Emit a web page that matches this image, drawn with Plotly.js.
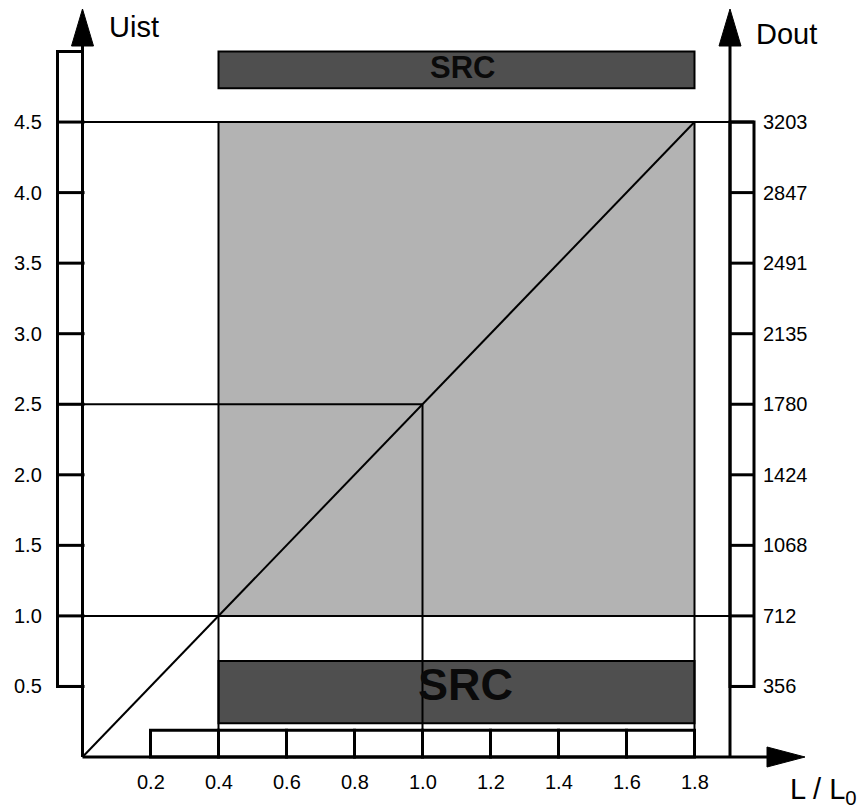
<!DOCTYPE html>
<html>
<head>
<meta charset="utf-8">
<script src="https://cdn.plot.ly/plotly-3.0.1.min.js"></script>
<style>
html,body{margin:0;padding:0;background:#fff;}
#chart{width:868px;height:809px;}
</style>
</head>
<body>
<div id="chart"></div>
<script>
// ---- data ----
const xTicks = [0.2, 0.4, 0.6, 0.8, 1.0, 1.2, 1.4, 1.6, 1.8];
const xTickLabels = ['0.2', '0.4', '0.6', '0.8', '1.0', '1.2', '1.4', '1.6', '1.8'];
const uistTicks = [0.5, 1.0, 1.5, 2.0, 2.5, 3.0, 3.5, 4.0, 4.5];
const uistLabels = ['0.5', '1.0', '1.5', '2.0', '2.5', '3.0', '3.5', '4.0', '4.5'];
const doutLabels = ['356', '712', '1068', '1424', '1780', '2135', '2491', '2847', '3203'];
const curveL = [0, 0.4, 1.0, 1.8];
const curveU = [0, 1.0, 2.5, 4.5];
const srcRangeL = [0.4, 1.8];
const workRangeU = [1.0, 4.5];
const nominalL = 1.0;
const nominalU = 2.5;
const srcTopBand = [4.74, 5.0];
const srcBottomBand = [0.24, 0.68];
const stripTop = 0.19;
const leftScaleTop = 5.0;

// ---- geometry helpers (pixel layout of the drawing) ----
const PX = 340, PY = 141.1, X0 = 82.5, Y0 = 757, W = 868, H = 809;
const dx = p => (p - X0) / PX;      // pixel -> L value
const dy = p => (Y0 - p) / PY;      // pixel -> Uist value
const leftBoxX = dx(57.5);
const rightAxisX = dx(730);
const rightBoxX = dx(754);
const arrowBaseY = dy(46), arrowTipY = dy(9);
const arrowHalfW = 11 / PX;
const xArrowBase = dx(767), xArrowTip = dx(805), xArrowHalfH = 10 / PY;

const BLACK = '#000';
const shapes = [];
function line(x0, y0, x1, y1, w) {
  shapes.push({type: 'line', xref: 'x', yref: 'y', x0, y0, x1, y1, line: {color: BLACK, width: w}});
}
function rect(x0, y0, x1, y1, fill, w, layer) {
  shapes.push({type: 'rect', xref: 'x', yref: 'y', x0, y0, x1, y1, fillcolor: fill,
    line: {color: BLACK, width: w}, layer: layer || 'above'});
}
function path(d) {
  shapes.push({type: 'path', xref: 'x', yref: 'y', path: d, fillcolor: BLACK, line: {color: BLACK, width: 1}});
}

// working region (light gray)
shapes.push({type: 'rect', xref: 'x', yref: 'y', x0: srcRangeL[0], x1: srcRangeL[1],
  y0: workRangeU[0], y1: workRangeU[1], fillcolor: '#b3b3b3', line: {width: 0}, layer: 'below'});

// SRC bars
rect(srcRangeL[0], srcTopBand[0], srcRangeL[1], srcTopBand[1], '#4f4f4f', 2);
rect(srcRangeL[0], srcBottomBand[0], srcRangeL[1], srcBottomBand[1], '#4f4f4f', 2);

// strip cells along the L axis
for (let i = 0; i < xTicks.length - 1; i++) {
  rect(xTicks[i], 0, xTicks[i + 1], stripTop, 'rgba(0,0,0,0)', 3);
}

// scale boxes
rect(leftBoxX, uistTicks[0], 0, leftScaleTop, 'rgba(0,0,0,0)', 3);
rect(rightAxisX, uistTicks[0], rightBoxX, uistTicks[uistTicks.length - 1], 'rgba(0,0,0,0)', 3);

// tick marks inside boxes
uistTicks.forEach(u => {
  line(leftBoxX, u, 0.006, u, 3);
  line(rightAxisX, u, rightBoxX, u, 3);
});

// guide lines
line(leftBoxX, workRangeU[1], rightBoxX, workRangeU[1], 2);
line(leftBoxX, workRangeU[0], rightBoxX, workRangeU[0], 2);
line(leftBoxX, nominalU, nominalL, nominalU, 2);
line(srcRangeL[0], 0, srcRangeL[0], workRangeU[1], 2);
line(srcRangeL[1], 0, srcRangeL[1], workRangeU[1], 2);
line(nominalL, 0, nominalL, nominalU, 2);

// axes
line(0, 0, 0, arrowBaseY, 3);
line(rightAxisX, 0, rightAxisX, arrowBaseY, 3);
line(0, 0, xArrowBase, 0, 3);
path(`M ${-arrowHalfW},${arrowBaseY} L ${arrowHalfW},${arrowBaseY} L 0,${arrowTipY} Z`);
path(`M ${rightAxisX - arrowHalfW},${arrowBaseY} L ${rightAxisX + arrowHalfW},${arrowBaseY} L ${rightAxisX},${arrowTipY} Z`);
path(`M ${xArrowBase},${-xArrowHalfH} L ${xArrowBase},${xArrowHalfH} L ${xArrowTip},0 Z`);

// ---- annotations ----
const FONT = 'Liberation Sans, Arial, sans-serif';
const ann = [];
const tickFont = {family: FONT, size: 20, color: '#000'};
uistTicks.forEach((u, i) => {
  ann.push({x: dx(44), y: u, xref: 'x', yref: 'y', text: uistLabels[i], showarrow: false,
    xanchor: 'right', yanchor: 'middle', font: tickFont});
  ann.push({x: dx(761), y: u, xref: 'x', yref: 'y', text: doutLabels[i], showarrow: false,
    xanchor: 'left', yanchor: 'middle', font: tickFont});
});
xTicks.forEach((x, i) => {
  ann.push({x: x, y: dy(782), xref: 'x', yref: 'y', text: xTickLabels[i], showarrow: false,
    xanchor: 'center', yanchor: 'middle', font: tickFont});
});
const titleFont = {family: FONT, size: 29, color: '#000'};
ann.push({x: dx(107), y: dy(27), xref: 'x', yref: 'y', text: 'Uist', showarrow: false,
  xanchor: 'left', yanchor: 'middle', font: titleFont});
ann.push({x: dx(754), y: dy(34), xref: 'x', yref: 'y', text: 'Dout', showarrow: false,
  xanchor: 'left', yanchor: 'middle', font: titleFont});
ann.push({x: dx(788), y: dy(791), xref: 'x', yref: 'y', text: 'L / L<sub>0</sub>', showarrow: false,
  xanchor: 'left', yanchor: 'middle', font: titleFont});
ann.push({x: dx(462.5), y: dy(67), xref: 'x', yref: 'y', text: '<b>SRC</b>', showarrow: false,
  xanchor: 'center', yanchor: 'middle', font: {family: FONT, size: 31, color: '#0a0a0a'}});
ann.push({x: dx(465), y: dy(684), xref: 'x', yref: 'y', text: '<b>SRC</b>', showarrow: false,
  xanchor: 'center', yanchor: 'middle', font: {family: FONT, size: 45, color: '#0a0a0a'}});

const traces = [{
  x: curveL, y: curveU, type: 'scatter', mode: 'lines',
  line: {color: BLACK, width: 2}, hoverinfo: 'skip', showlegend: false
}];

const layout = {
  width: W, height: H, autosize: false,
  margin: {l: 0, r: 0, t: 0, b: 0, pad: 0},
  paper_bgcolor: '#fff', plot_bgcolor: '#fff',
  showlegend: false,
  xaxis: {range: [dx(0), dx(W)], visible: false, fixedrange: true},
  yaxis: {range: [dy(H), dy(0)], visible: false, fixedrange: true},
  shapes: shapes,
  annotations: ann
};
Plotly.newPlot('chart', traces, layout, {staticPlot: true, displayModeBar: false});
</script>
</body>
</html>
